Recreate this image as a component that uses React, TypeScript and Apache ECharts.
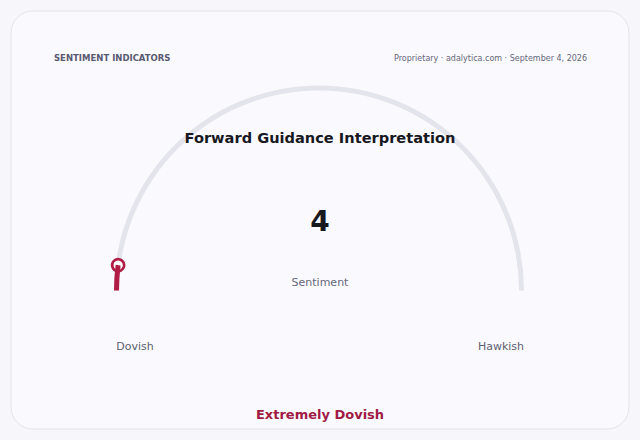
import React, { useEffect, useRef } from 'react';
import * as echarts from 'echarts';

const headerLeft = 'SENTIMENT INDICATORS';
const headerRight = 'Proprietary · adalytica.com · September 4, 2026';
const chartTitle = 'Forward Guidance Interpretation';
const metricName = 'Sentiment';
const sentimentValue = 4;
const scaleMin = 0;
const scaleMax = 100;
const endLabels = ['Dovish', 'Hawkish'];
const verdict = 'Extremely Dovish';

const FONT = 'DejaVu Sans, Verdana, sans-serif';
const CRIMSON = '#b01c45';

function txt(text: string, x: number, y: number, opts: any) {
  return {
    type: 'text',
    x,
    y,
    silent: true,
    style: {
      text,
      fontFamily: FONT,
      textAlign: opts.align || 'center',
      align: opts.align || 'center',
      textVerticalAlign: 'middle',
      verticalAlign: 'middle',
      fontSize: opts.size,
      fontWeight: opts.weight || 'normal',
      fill: opts.color,
    },
    z: 10,
  };
}

export default function App() {
  const ref = useRef<HTMLDivElement>(null);
  useEffect(() => {
    document.body.style.margin = '0';
    const chart = echarts.init(ref.current!, undefined, { renderer: 'svg' });
    chart.setOption({
      animation: false,
      backgroundColor: '#f7f7fb',
      graphic: [
        {
          type: 'rect',
          shape: { x: 11, y: 11, width: 618, height: 418, r: 22 },
          style: { fill: '#fafafe', stroke: '#e2e2ea', lineWidth: 1 },
          z: 0,
          silent: true,
        },
        { ...txt(headerLeft, 54, 58, { align: 'left', size: 8.5, weight: 'bold', color: '#585870' }) },
        { ...txt(headerRight, 587, 58, { align: 'right', size: 8, color: '#66667a' }) },
        { ...txt(chartTitle, 320, 137, { size: 14.6, weight: 'bold', color: '#18181f' }) },
        { ...txt(endLabels[0], 135, 346, { size: 11, color: '#5e5e70' }) },
        { ...txt(endLabels[1], 501, 346, { size: 11, color: '#5e5e70' }) },
        { ...txt(verdict, 320, 414, { size: 13, weight: 'bold', color: '#a01a45' }) },
      ],
      series: [
        {
          type: 'gauge',
          center: [319, 290.5],
          radius: 205,
          startAngle: 180,
          endAngle: 0,
          min: scaleMin,
          max: scaleMax,
          axisLine: { roundCap: false, lineStyle: { width: 5, color: [[1, '#e4e4ec']] } },
          progress: { show: true, width: 5, roundCap: false, itemStyle: { color: CRIMSON } },
          axisTick: { show: false },
          splitLine: { show: false },
          axisLabel: { show: false },
          anchor: { show: false },
          pointer: {
            show: true,
            icon: 'circle',
            length: 12,
            width: 12,
            offsetCenter: [0, -196.5],
            itemStyle: { color: '#ffffff', borderColor: CRIMSON, borderWidth: 2.6 },
          },
          title: {
            offsetCenter: [1, -8.5],
            fontSize: 11,
            color: '#66667a',
            fontFamily: FONT,
          },
          detail: {
            offsetCenter: [1, -69.5],
            fontSize: 28,
            fontWeight: 'bold',
            color: '#18181f',
            fontFamily: FONT,
            formatter: '{value}',
          },
          data: [{ value: sentimentValue, name: metricName }],
          z: 5,
        },
      ],
    });
    return () => chart.dispose();
  }, []);
  return <div ref={ref} style={{ width: 640, height: 440 }} />;
}
